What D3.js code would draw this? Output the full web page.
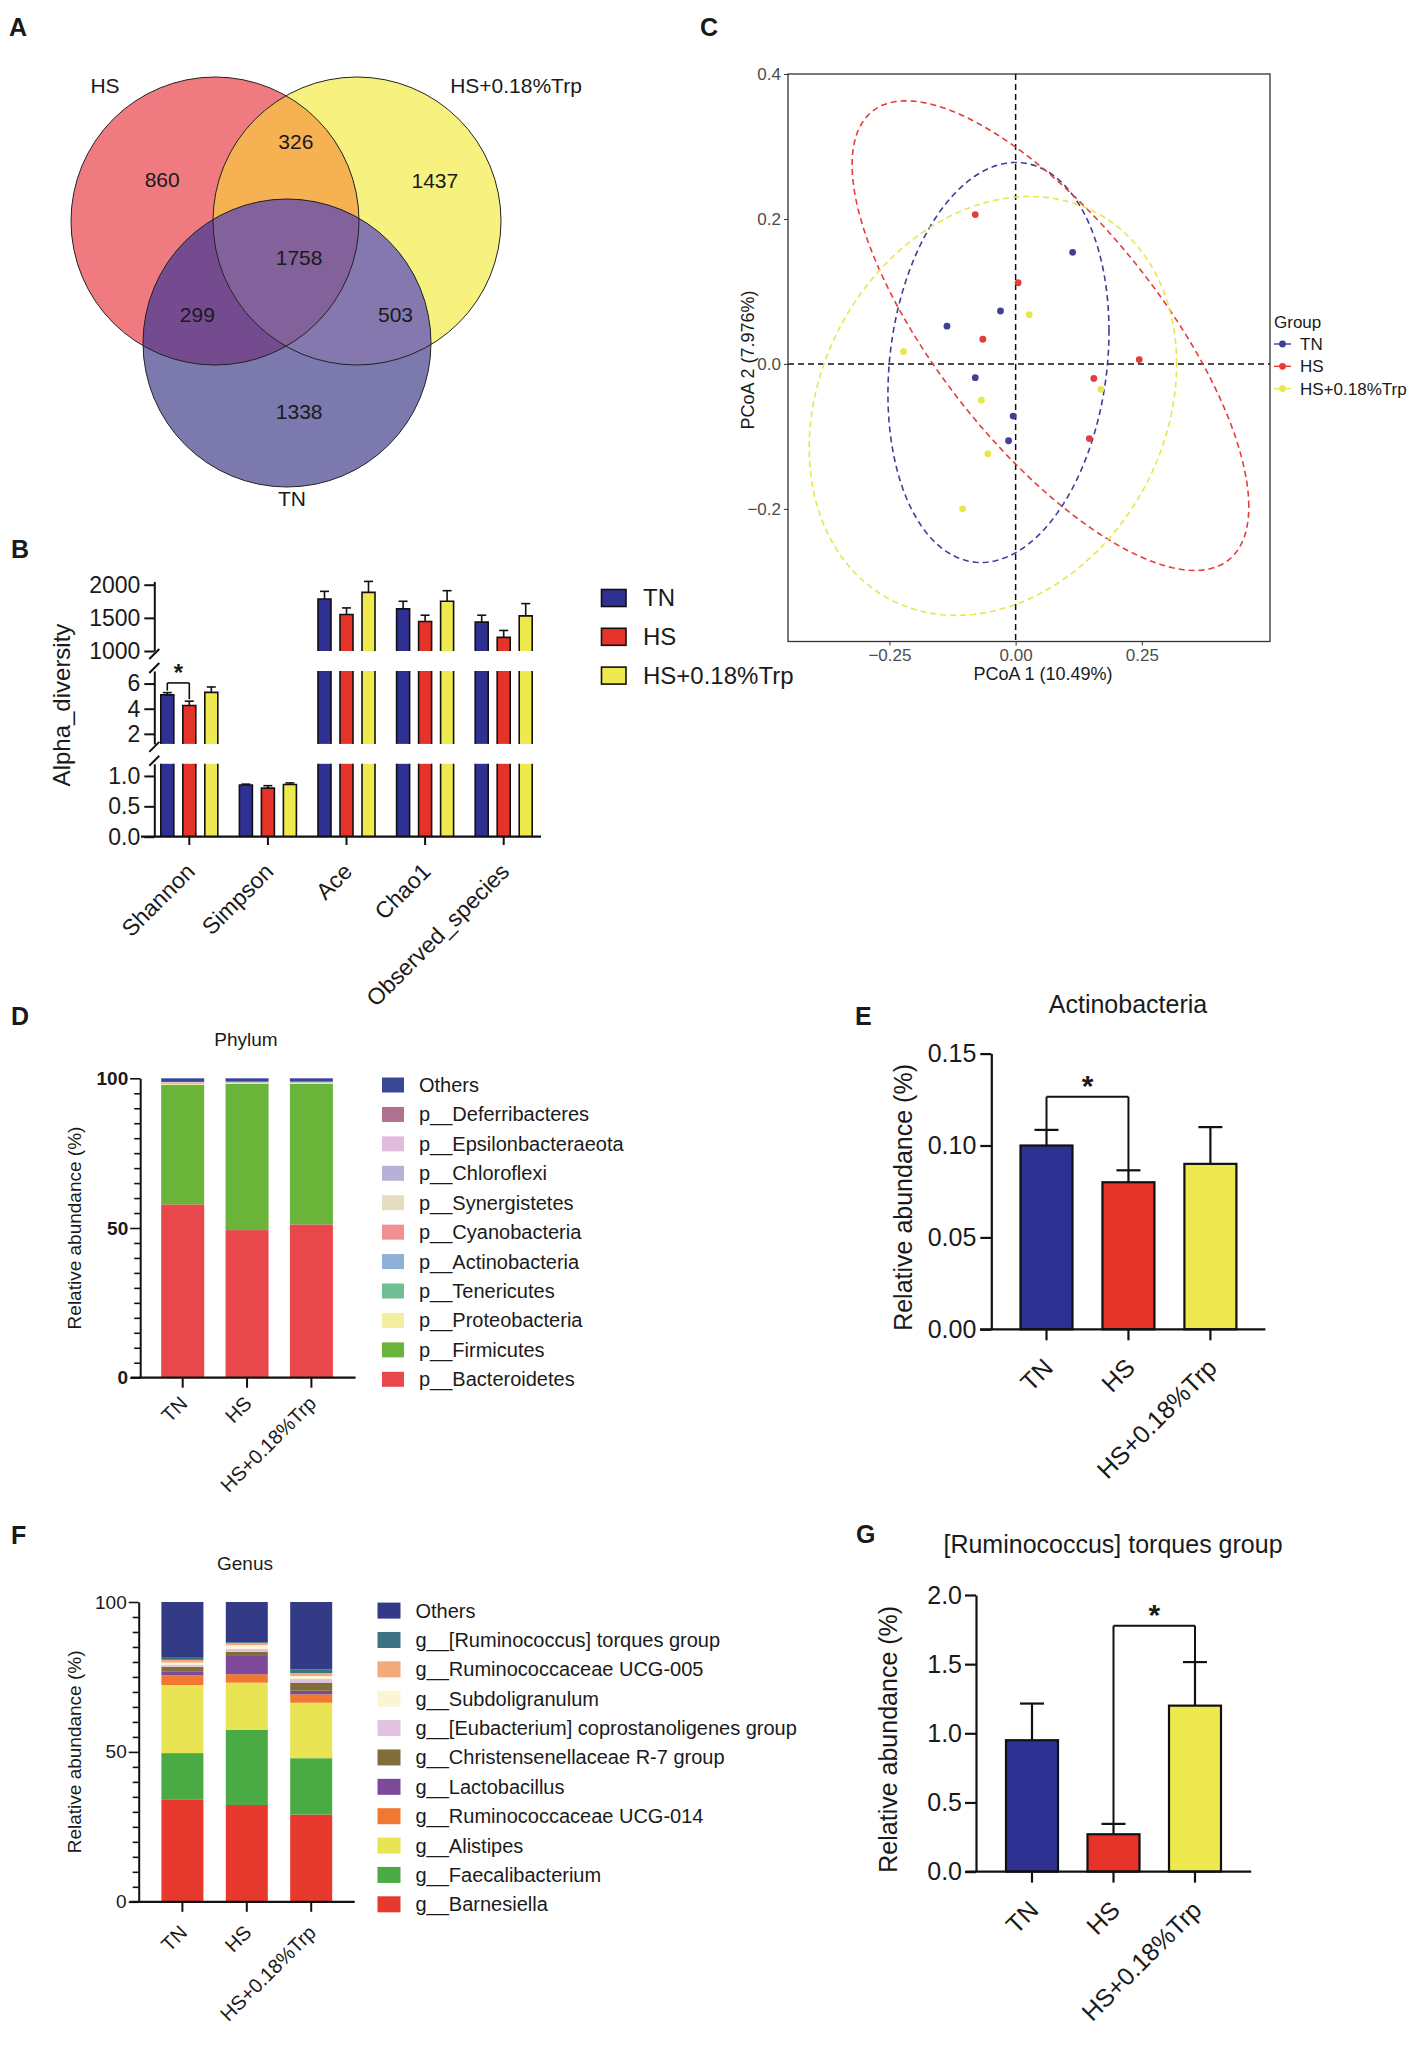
<!DOCTYPE html>
<html>
<head>
<meta charset="utf-8">
<script src="https://cdn.jsdelivr.net/npm/d3@7"></script>
<style>
  body { margin: 0; background: #fff; }
  svg text { font-family: "Liberation Sans", Arial, sans-serif; fill: #1a1a1a; }
</style>
</head>
<body>
<svg id="fig" width="1417" height="2056"></svg>
<script>
'use strict';

// ---------- data ----------
var groups = ['TN', 'HS', 'HS+0.18%Trp'];

// A: Venn (OTU counts per region)
var vennSets = ['HS', 'HS+0.18%Trp', 'TN'];
var vennRegionSets = [[0], [0, 1], [1], [0, 1, 2], [0, 2], [1, 2], [2]];
var vennCounts = [860, 326, 1437, 1758, 299, 503, 1338];

// B: alpha diversity
var alphaMetrics = ['Shannon', 'Simpson', 'Ace', 'Chao1', 'Observed_species'];
var alphaTN = [5.1, 0.85, 1785, 1635, 1435];
var alphaTNErr = [0.18, 0.015, 115, 115, 105];
var alphaHS = [4.25, 0.80, 1550, 1445, 1205];
var alphaHSErr = [0.35, 0.04, 100, 95, 105];
var alphaTrp = [5.3, 0.86, 1885, 1750, 1530];
var alphaTrpErr = [0.43, 0.025, 165, 160, 185];
var alphaBreaks = [[0, 1.2], [1.2, 7], [1000, 2050]];
var alphaTicks = [[0, 0.5, 1.0], [2, 4, 6], [1000, 1500, 2000]];

// C: PCoA
var pcoaTN = [[0.113, 0.154], [-0.030, 0.073], [-0.136, 0.052], [-0.080, -0.019], [-0.005, -0.072], [-0.014, -0.106]];
var pcoaHS = [[-0.080, 0.206], [0.005, 0.112], [-0.065, 0.034], [0.245, 0.006], [0.155, -0.020], [0.146, -0.103]];
var pcoaTrp = [[0.027, 0.068], [-0.222, 0.017], [-0.068, -0.050], [0.169, -0.035], [-0.055, -0.124], [-0.105, -0.200]];
// ellipse: centre x, centre y, half-width x, half-height y, correlation
var ellipseTN = [-0.034, 0.002, 0.219, 0.276, 0.157];
var ellipseHS = [0.069, 0.039, 0.393, 0.324, -0.728];
var ellipseTrp = [-0.045, -0.058, 0.364, 0.289, 0.2];
var pcoaXTicks = [-0.25, 0, 0.25];
var pcoaYTicks = [-0.2, 0, 0.2, 0.4];

// D: phylum composition (%), stacked bottom to top
var phylumNames = ['p__Bacteroidetes', 'p__Firmicutes', 'p__Proteobacteria', 'p__Tenericutes', 'p__Actinobacteria',
  'p__Cyanobacteria', 'p__Synergistetes', 'p__Chloroflexi', 'p__Epsilonbacteraeota', 'p__Deferribacteres', 'Others'];
var phylumTN = [57.9, 39.9, 0.4, 0.2, 0.1, 0.1, 0.05, 0.05, 0.05, 0.05, 1.2];
var phylumHS = [49.3, 48.8, 0.3, 0.15, 0.08, 0.08, 0.04, 0.04, 0.04, 0.05, 1.12];
var phylumTrp = [51.2, 46.9, 0.3, 0.15, 0.09, 0.07, 0.04, 0.04, 0.04, 0.05, 1.12];

// E: Actinobacteria
var actinoMean = [0.100, 0.080, 0.090];
var actinoErr = [0.0085, 0.0065, 0.020];
var actinoTicks = [0, 0.05, 0.10, 0.15];

// F: genus composition (%), stacked bottom to top
var genusNames = ['g__Barnesiella', 'g__Faecalibacterium', 'g__Alistipes', 'g__Ruminococcaceae UCG-014', 'g__Lactobacillus',
  'g__Christensenellaceae R-7 group', 'g__[Eubacterium] coprostanoligenes group', 'g__Subdoligranulum',
  'g__Ruminococcaceae UCG-005', 'g__[Ruminococcus] torques group', 'Others'];
var genusTN = [34.0, 15.6, 22.7, 3.3, 1.3, 1.5, 0.7, 0.7, 0.9, 0.95, 18.35];
var genusHS = [32.3, 25.1, 15.7, 2.8, 6.1, 1.4, 1.0, 1.2, 0.7, 0.27, 13.43];
var genusTrp = [29.1, 18.8, 18.5, 2.8, 1.2, 2.7, 1.2, 1.0, 1.0, 1.2, 22.5];

// G: [Ruminococcus] torques group
var torquesMean = [0.95, 0.27, 1.20];
var torquesErr = [0.265, 0.075, 0.315];
var torquesTicks = [0, 0.5, 1.0, 1.5, 2.0];

// ---------- styles ----------
var barColors = ['#2e3192', '#e6332a', '#ede94e'];
var ptColors = ['#3f3f99', '#e63c3c', '#e8e64a'];
var vennRegionFill = ['#ef7b80', '#f5b152', '#f7f17f', '#83619a', '#754b8f', '#8478ae', '#7b79ae'];
// small nudges so the counts sit where the original drawing put them
var vennLabelNudge = [[7, -7], [10, -22], [18, -5], [13, -4], [-4, 4], [24, 4], [12, -1]];
var phylumColors = ['#e8474c', '#6ab43a', '#f2f0a0', '#6fbf92', '#8fb0d8', '#f09090', '#e6dcc0', '#b7b0d8', '#e2bcdc', '#b0708e', '#3a4796'];
var genusColors = ['#e8392e', '#4aaa44', '#e8e454', '#f07830', '#7d4a99', '#7f6e3a', '#e2c2e0', '#faf6d4', '#f5a878', '#3d7282', '#333a86'];

var svg = d3.select('#fig');
var defs = svg.append('defs');

function panelLabel(txt, x, y) {
  svg.append('text').attr('x', x).attr('y', y).style('font-size', '25px').style('font-weight', 'bold').text(txt);
}
function rotLabel(g, txt, x, y, size) {
  g.append('text').attr('transform', 'translate(' + x + ',' + y + ') rotate(-90)')
    .attr('text-anchor', 'middle').attr('dy', '0.35em').style('font-size', size + 'px').text(txt);
}
function line(g, x1, y1, x2, y2, w) {
  return g.append('line').attr('x1', x1).attr('y1', y1).attr('x2', x2).attr('y2', y2)
    .attr('stroke', '#111').attr('stroke-width', w || 2);
}
function slantLabels(g, names, xs, y, size, dx) {
  names.forEach(function (n) {
    g.append('text').attr('transform', 'translate(' + (xs(n) + dx) + ',' + y + ') rotate(-45)')
      .attr('text-anchor', 'end').style('font-size', size + 'px').text(n);
  });
}

// ---------- A: Venn ----------
panelLabel('A', 9, 36);
var gA = svg.append('g');
var vennCenters = [[215, 221], [357, 221], [287, 343]];
var vennR = 144;
vennCenters.forEach(function (c, i) {
  defs.append('clipPath').attr('id', 'vclip' + i).append('circle').attr('cx', c[0]).attr('cy', c[1]).attr('r', vennR);
});
d3.range(vennRegionSets.length).sort(function (a, b) {
  return vennRegionSets[a].length - vennRegionSets[b].length || a - b;
}).forEach(function (k) {
  var sets = vennRegionSets[k];
  var holder = gA;
  sets.slice(0, -1).forEach(function (s) {
    holder = holder.append('g').attr('clip-path', 'url(#vclip' + s + ')');
  });
  var last = vennCenters[sets[sets.length - 1]];
  holder.append('circle').attr('cx', last[0]).attr('cy', last[1]).attr('r', vennR).attr('fill', vennRegionFill[k]);
});
vennCenters.forEach(function (c) {
  gA.append('circle').attr('cx', c[0]).attr('cy', c[1]).attr('r', vennR)
    .attr('fill', 'none').attr('stroke', '#222').attr('stroke-width', 1);
});
function regionCentroid(sets) {
  var sx = 0, sy = 0, n = 0;
  for (var x = 60; x < 510; x += 2) {
    for (var y = 70; y < 495; y += 2) {
      var ok = vennCenters.every(function (c, i) {
        var inside = (x - c[0]) * (x - c[0]) + (y - c[1]) * (y - c[1]) <= vennR * vennR;
        return inside === (sets.indexOf(i) >= 0);
      });
      if (ok) { sx += x; sy += y; n++; }
    }
  }
  return [sx / n, sy / n];
}
vennRegionSets.forEach(function (sets, k) {
  var p = regionCentroid(sets);
  gA.append('text').attr('x', p[0] + vennLabelNudge[k][0]).attr('y', p[1] + vennLabelNudge[k][1])
    .attr('text-anchor', 'middle').attr('dy', '0.35em').style('font-size', '21px').text(vennCounts[k]);
});
gA.append('text').attr('x', 105).attr('y', 93).attr('text-anchor', 'middle').style('font-size', '21px').text(vennSets[0]);
gA.append('text').attr('x', 516).attr('y', 93).attr('text-anchor', 'middle').style('font-size', '21px').text(vennSets[1]);
gA.append('text').attr('x', 292).attr('y', 506).attr('text-anchor', 'middle').style('font-size', '21px').text(vennSets[2]);

// ---------- C: PCoA ----------
panelLabel('C', 700, 36);
var gC = svg.append('g');
var xC = d3.scaleLinear().domain([-0.451, 0.504]).range([788, 1270]);
var yC = d3.scaleLinear().domain([-0.383, 0.4]).range([641.5, 74]);
gC.append('rect').attr('x', 788).attr('y', 74).attr('width', 482).attr('height', 567.5)
  .attr('fill', 'none').attr('stroke', '#333').attr('stroke-width', 1.3);
var axCx = gC.append('g').attr('transform', 'translate(0,641.5)')
  .call(d3.axisBottom(xC).tickValues(pcoaXTicks).tickFormat(d3.format('.2f')).tickSize(4).tickSizeOuter(0));
var axCy = gC.append('g').attr('transform', 'translate(788,0)')
  .call(d3.axisLeft(yC).tickValues(pcoaYTicks).tickFormat(d3.format('.1f')).tickSize(4).tickSizeOuter(0));
[axCx, axCy].forEach(function (a) {
  a.select('.domain').remove();
  a.selectAll('line').attr('stroke', '#333');
  a.selectAll('text').style('font-size', '17px').style('fill', '#4d4d4d');
});
line(gC, xC(0), 74, xC(0), 641.5, 1.5).attr('stroke-dasharray', '6,4');
line(gC, 788, yC(0), 1270, yC(0), 1.5).attr('stroke-dasharray', '6,4');
var ellLine = d3.line().x(function (d) { return xC(d[0]); }).y(function (d) { return yC(d[1]); }).curve(d3.curveLinearClosed);
function ellipsePts(e) {
  return d3.range(0, 2 * Math.PI, Math.PI / 90).map(function (t) {
    return [e[0] + e[2] * Math.cos(t), e[1] + e[3] * (e[4] * Math.cos(t) + Math.sqrt(1 - e[4] * e[4]) * Math.sin(t))];
  });
}
[ellipseTN, ellipseHS, ellipseTrp].forEach(function (e, i) {
  gC.append('path').attr('d', ellLine(ellipsePts(e))).attr('fill', 'none')
    .attr('stroke', ptColors[i]).attr('stroke-width', 1.6).attr('stroke-dasharray', '6,4');
});
[pcoaTN, pcoaHS, pcoaTrp].forEach(function (pts, i) {
  gC.selectAll(null).data(pts).enter().append('circle')
    .attr('cx', function (d) { return xC(d[0]); }).attr('cy', function (d) { return yC(d[1]); })
    .attr('r', 3.4).attr('fill', ptColors[i]);
});
gC.append('text').attr('x', 1043).attr('y', 680).attr('text-anchor', 'middle').style('font-size', '18px').text('PCoA 1 (10.49%)');
rotLabel(gC, 'PCoA 2 (7.976%)', 748, 360, 18);
gC.append('text').attr('x', 1274).attr('y', 328).style('font-size', '17px').text('Group');
groups.forEach(function (g, i) {
  var y = 344 + i * 22.3;
  line(gC, 1274, y, 1291, y, 1.4).attr('stroke', ptColors[i]);
  gC.append('circle').attr('cx', 1282.5).attr('cy', y).attr('r', 3.4).attr('fill', ptColors[i]);
  gC.append('text').attr('x', 1300).attr('y', y).attr('dy', '0.35em').style('font-size', '17px').text(g);
});

// ---------- B: alpha diversity (broken axis) ----------
panelLabel('B', 11, 558);
var gB = svg.append('g');
var axisXB = 154.3;
var segRanges = [[836.7, 763.8], [743.9, 671], [651, 581.4]];
var segFormats = ['.1f', 'd', 'd'];
var xB = d3.scalePoint().domain(alphaMetrics).range([189.3, 503.7]);
var offB = [-22, 0, 22];
var bwB = 13;
var alphaMeans = [alphaTN, alphaHS, alphaTrp];
var alphaErrs = [alphaTNErr, alphaHSErr, alphaTrpErr];
var segScales = alphaBreaks.map(function (d, s) {
  return d3.scaleLinear().domain(d).range(segRanges[s]);
});
segScales.forEach(function (ys, s) {
  var lo = alphaBreaks[s][0], hi = alphaBreaks[s][1];
  alphaMetrics.forEach(function (m, i) {
    alphaMeans.forEach(function (vals, g) {
      var v = vals[i];
      if (v <= lo) return;
      var top = Math.min(v, hi);
      var x0 = xB(m) + offB[g] - bwB / 2, x1 = x0 + bwB;
      gB.append('rect').attr('x', x0).attr('y', ys(top)).attr('width', bwB).attr('height', ys(lo) - ys(top))
        .attr('fill', barColors[g]);
      var p = d3.path();
      p.moveTo(x0, ys(lo));
      p.lineTo(x0, ys(top));
      if (v <= hi) { p.lineTo(x1, ys(top)); } else { p.moveTo(x1, ys(top)); }
      p.lineTo(x1, ys(lo));
      gB.append('path').attr('d', p.toString()).attr('fill', 'none').attr('stroke', '#111').attr('stroke-width', 1.6);
      if (v <= hi) {
        var cx = xB(m) + offB[g];
        var ye = ys(v + alphaErrs[g][i]);
        line(gB, cx, ys(v), cx, ye, 1.6);
        line(gB, cx - 4.5, ye, cx + 4.5, ye, 1.6);
      }
    });
  });
  var ax = gB.append('g').attr('transform', 'translate(' + axisXB + ',0)')
    .call(d3.axisLeft(ys).tickValues(alphaTicks[s]).tickFormat(d3.format(segFormats[s])).tickSize(10).tickPadding(4).tickSizeOuter(0));
  ax.select('.domain').attr('stroke', '#111').attr('stroke-width', 2);
  ax.selectAll('line').attr('stroke', '#111').attr('stroke-width', 2);
  ax.selectAll('text').style('font-size', '23px').style('fill', '#1a1a1a');
  // break marks
  if (s > 0) line(gB, axisXB - 5, ys(lo) + 8, axisXB + 5, ys(lo) - 2, 2);
  if (s < 2) line(gB, axisXB - 5, ys(hi) + 2, axisXB + 5, ys(hi) - 8, 2);
});
line(gB, 141, 836.7, 541, 836.7, 2.2);
alphaMetrics.forEach(function (m) { line(gB, xB(m), 836.7, xB(m), 845, 2); });
slantLabels(gB, alphaMetrics, xB, 873, 23, 7);
rotLabel(gB, 'Alpha_diversity', 62, 705, 24);
// significance Shannon TN vs HS
(function () {
  var ys = segScales[1];
  var xa = xB('Shannon') + offB[0], xh = xB('Shannon') + offB[1];
  var yb = ys(6.05);
  line(gB, xa, ys(alphaTN[0] + alphaTNErr[0]) - 2, xa, yb, 1.6);
  line(gB, xa, yb, xh, yb, 1.6);
  line(gB, xh, yb, xh, ys(alphaHS[0] + alphaHSErr[0]) - 2, 1.6);
  gB.append('text').attr('x', (xa + xh) / 2).attr('y', 681).attr('text-anchor', 'middle')
    .style('font-size', '24px').style('font-weight', 'bold').text('*');
})();
groups.forEach(function (g, i) {
  var cy = 598 + i * 38.8;
  gB.append('rect').attr('x', 601.5).attr('y', cy - 8.5).attr('width', 24.5).attr('height', 17)
    .attr('fill', barColors[i]).attr('stroke', '#111').attr('stroke-width', 1.6);
  gB.append('text').attr('x', 643).attr('y', cy).attr('dy', '0.35em').style('font-size', '24px').text(g);
});

// ---------- stacked composition panels (D, F) ----------
function stackPanel(o) {
  var g = svg.append('g');
  var y = d3.scaleLinear().domain([0, 100]).range([o.y0, o.y100]);
  var x = d3.scalePoint().domain(groups).range(o.xr);
  var cols = [o.tn, o.hs, o.trp];
  groups.forEach(function (grp, gi) {
    var acc = 0;
    o.names.forEach(function (n, k) {
      var v = cols[gi][k];
      g.append('rect').attr('x', x(grp) - o.bw / 2).attr('y', y(acc + v)).attr('width', o.bw)
        .attr('height', y(acc) - y(acc + v)).attr('fill', o.colors[k]);
      acc += v;
    });
  });
  var ax = g.append('g').attr('transform', 'translate(' + o.ax + ',0)')
    .call(d3.axisLeft(y).tickValues(d3.range(0, 101, 5)).tickSize(6).tickSizeOuter(0)
      .tickFormat(function (d) { return d % 50 === 0 ? d : ''; }));
  ax.select('.domain').attr('stroke', '#111').attr('stroke-width', 2);
  ax.selectAll('.tick line').attr('stroke', '#111').attr('stroke-width', 1.6)
    .attr('x2', function (d) { return d % 50 === 0 ? -10 : -6; });
  ax.selectAll('text').attr('x', -12).style('font-size', '19px').style('font-weight', o.bold ? 'bold' : 'normal').style('fill', '#1a1a1a');
  line(g, o.xl[0], o.y0, o.xl[1], o.y0, 2.2);
  groups.forEach(function (grp) { line(g, x(grp), o.y0, x(grp), o.y0 + 10, 2); });
  slantLabels(g, groups, x, o.y0 + o.lab, 20, 6);
  g.append('text').attr('x', o.tx).attr('y', o.ty).attr('text-anchor', 'middle').style('font-size', '19px').text(o.title);
  rotLabel(g, 'Relative abundance (%)', 74, (o.y0 + o.y100) / 2, 19);
  var n = o.names.length;
  o.names.slice().reverse().forEach(function (name, i) {
    var k = n - 1 - i;
    var cy = o.ly + i * o.ls;
    g.append('rect').attr('x', o.lx).attr('y', cy - o.lh / 2).attr('width', o.lw).attr('height', o.lh).attr('fill', o.colors[k]);
    g.append('text').attr('x', o.lx + o.lw + 15).attr('y', cy).attr('dy', '0.35em').style('font-size', '20px').text(name);
  });
}

panelLabel('D', 11, 1025);
stackPanel({ names: phylumNames, tn: phylumTN, hs: phylumHS, trp: phylumTrp, colors: phylumColors,
  y0: 1377.7, y100: 1078.3, xr: [182.7, 311.4], bw: 43, ax: 140.2, xl: [130.8, 355.6], bold: true,
  lab: 27, title: 'Phylum', tx: 246, ty: 1046, lx: 382, ly: 1085, ls: 29.43, lw: 22, lh: 15 });

panelLabel('F', 11, 1544);
stackPanel({ names: genusNames, tn: genusTN, hs: genusHS, trp: genusTrp, colors: genusColors,
  y0: 1901.8, y100: 1602, xr: [182.4, 311.2], bw: 42, ax: 138.7, xl: [129.7, 354.7], bold: false,
  lab: 32, title: 'Genus', tx: 245, ty: 1570, lx: 377.5, ly: 1610.6, ls: 29.37, lw: 23, lh: 16 });

// ---------- single-taxon bar panels (E, G) ----------
function barPanel(o) {
  var g = svg.append('g');
  var y = d3.scaleLinear().domain(o.domain).range(o.yr);
  var x = d3.scalePoint().domain(groups).range(o.xr);
  groups.forEach(function (grp, i) {
    var top = y(o.mean[i]), ye = y(o.mean[i] + o.err[i]);
    line(g, x(grp), top, x(grp), ye, 2.2);
    line(g, x(grp) - 12, ye, x(grp) + 12, ye, 2.2);
    g.append('rect').attr('x', x(grp) - 26).attr('y', top).attr('width', 52).attr('height', y(0) - top)
      .attr('fill', barColors[i]).attr('stroke', '#111').attr('stroke-width', 2.2);
  });
  var ax = g.append('g').attr('transform', 'translate(' + o.ax + ',0)')
    .call(d3.axisLeft(y).tickValues(o.ticks).tickFormat(d3.format(o.fmt)).tickSize(11).tickPadding(o.pad).tickSizeOuter(0));
  ax.select('.domain').attr('stroke', '#111').attr('stroke-width', 2.2);
  ax.selectAll('line').attr('stroke', '#111').attr('stroke-width', 2.2);
  ax.selectAll('text').style('font-size', '25px').style('fill', '#1a1a1a');
  line(g, o.xl[0], y(0), o.xl[1], y(0), 2.2);
  groups.forEach(function (grp) { line(g, x(grp), y(0), x(grp), y(0) + 11, 2.2); });
  slantLabels(g, groups, x, y(0) + 40, 25, 8);
  g.append('text').attr('x', o.tx).attr('y', o.ty).attr('text-anchor', 'middle').style('font-size', '25px').text(o.title);
  rotLabel(g, 'Relative abundance (%)', o.ax - 88, (o.yr[0] + o.yr[1]) / 2 + 6, 25);
  var a = o.sig[0], b = o.sig[1], yb = y(o.sigLevel);
  line(g, x(groups[a]), y(o.mean[a] + o.err[a]), x(groups[a]), yb, 2);
  line(g, x(groups[a]), yb, x(groups[b]), yb, 2);
  line(g, x(groups[b]), yb, x(groups[b]), y(o.mean[b] + o.err[b]), 2);
  g.append('text').attr('x', (x(groups[a]) + x(groups[b])) / 2).attr('y', yb - 1).attr('text-anchor', 'middle')
    .style('font-size', '30px').style('font-weight', 'bold').text('*');
}

panelLabel('E', 855, 1025);
barPanel({ mean: actinoMean, err: actinoErr, domain: [0, 0.15], yr: [1329.3, 1053.6], ticks: actinoTicks, fmt: '.2f',
  xr: [1046.5, 1210.4], ax: 991.3, pad: 4, xl: [980, 1265.4], title: 'Actinobacteria', tx: 1128, ty: 1013,
  sig: [0, 1], sigLevel: 0.1265 });

panelLabel('G', 856, 1543);
barPanel({ mean: torquesMean, err: torquesErr, domain: [0, 2], yr: [1871.6, 1595], ticks: torquesTicks, fmt: '.1f',
  xr: [1032, 1195], ax: 976, pad: 3, xl: [965.5, 1251.2], title: '[Ruminococcus] torques group', tx: 1113, ty: 1553,
  sig: [1, 2], sigLevel: 1.777 });
</script>
</body>
</html>
